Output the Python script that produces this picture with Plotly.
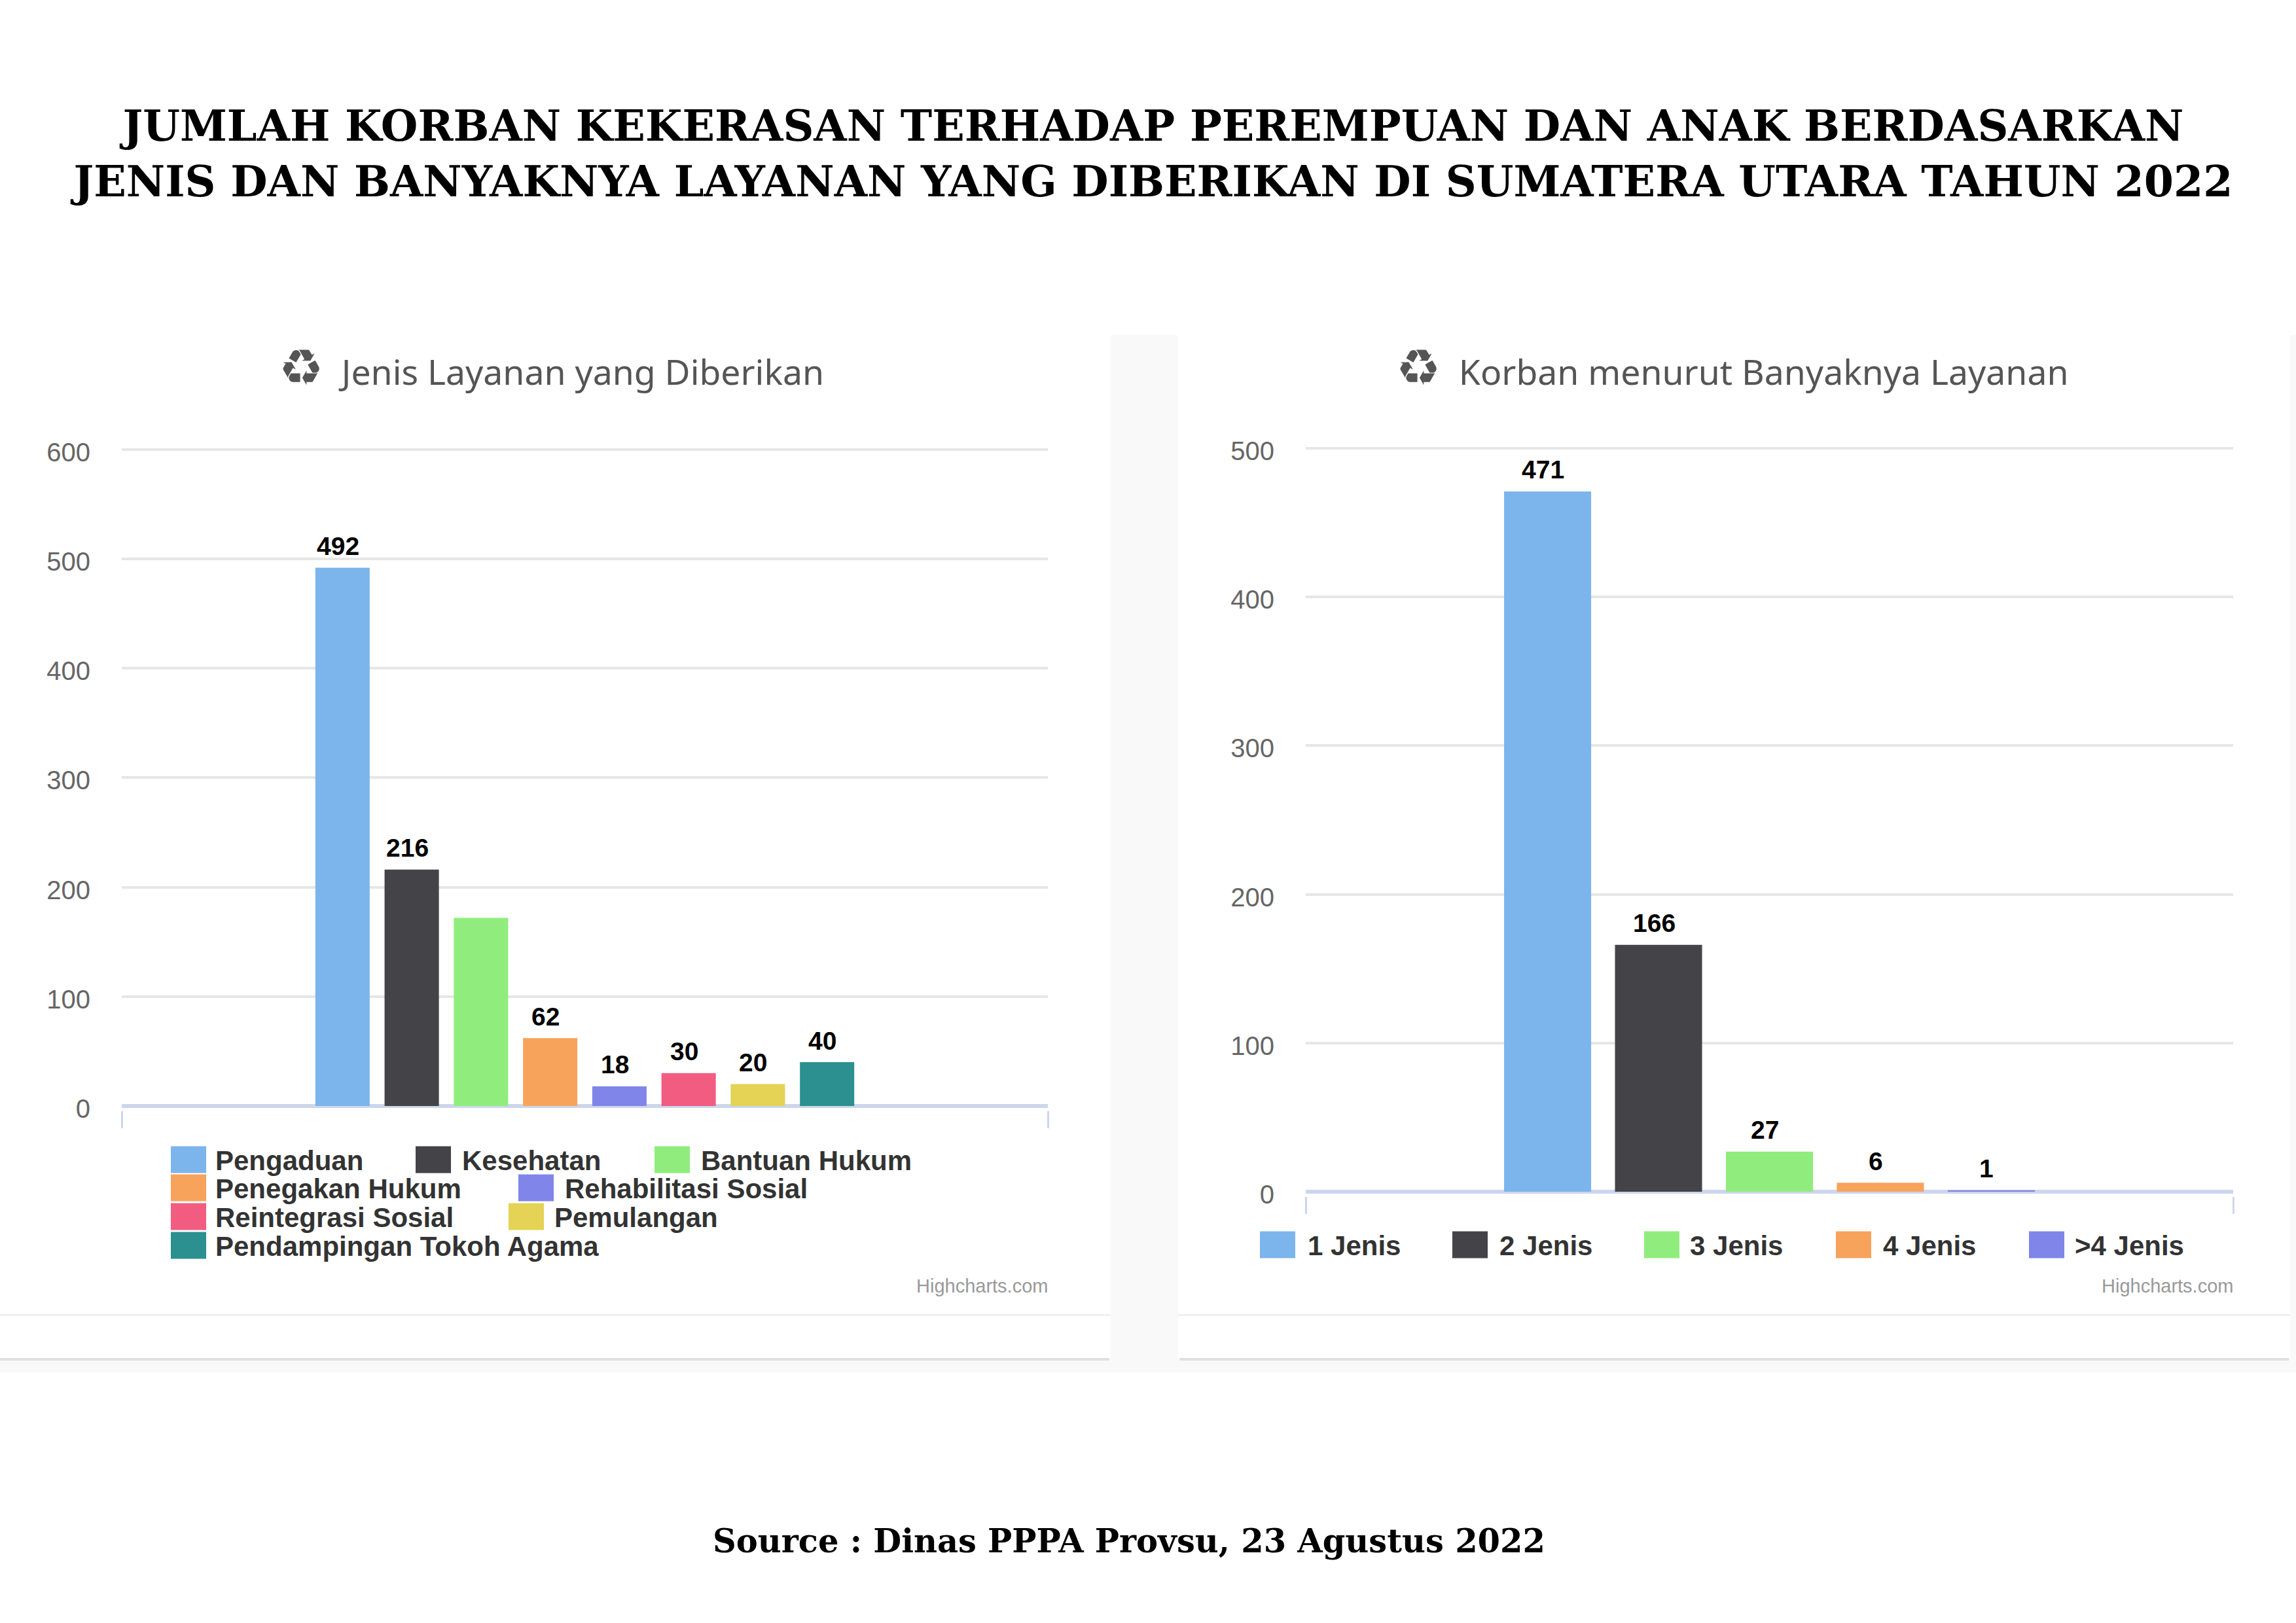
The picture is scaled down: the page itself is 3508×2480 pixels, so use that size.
import plotly.graph_objects as go

W, H = 3508, 2480

# ---- data ----
left_names = ["Pengaduan", "Kesehatan", "Bantuan Hukum", "Penegakan Hukum",
              "Rehabilitasi Sosial", "Reintegrasi Sosial", "Pemulangan",
              "Pendampingan Tokoh Agama"]
left_values = [492, 216, 172, 62, 18, 30, 20, 40]
left_labels = ["492", "216", "", "62", "18", "30", "20", "40"]
right_names = ["1 Jenis", "2 Jenis", "3 Jenis", "4 Jenis", ">4 Jenis"]
right_values = [471, 166, 27, 6, 1]
right_labels = ["471", "166", "27", "6", "1"]
left_ticks = [0, 100, 200, 300, 400, 500, 600]
right_ticks = [0, 100, 200, 300, 400, 500]
colors = ["#7cb5ec", "#434348", "#90ed7d", "#f7a35c", "#8085e9", "#f15c80", "#e4d354", "#2b908f"]

TITLE = ("JUMLAH KORBAN KEKERASAN TERHADAP PEREMPUAN DAN ANAK BERDASARKAN<br>"
         "JENIS DAN BANYAKNYA LAYANAN YANG DIBERIKAN DI SUMATERA UTARA TAHUN 2022")
ICON = '<span style="font-size:76px">♻</span>'
LEFT_TITLE = ICON + "  Jenis Layanan yang Diberikan"
RIGHT_TITLE = ICON + "  Korban menurut Banyaknya Layanan"
SOURCE = "Source : Dinas PPPA Provsu, 23 Agustus 2022"
CREDIT = "Highcharts.com"

# ---- layout helpers (pixel -> paper) ----
def fx(px):
    return px / W

def fy(px):
    return 1 - px / H

SANS = "Liberation Sans"
SERIF = "DejaVu Serif"
LEGEND_FONT = 42
SW_W, SW_H = 54, 41
ITEMW = 72
BARGAP = 0.402
GREY = "#f9f9f9"
RULE = "#e0e0e0"

# swatch left edge, text start, row centre for every legend entry
left_pos = [(261, 329, 1772), (635, 706, 1772), (1000, 1071, 1772),
            (261, 329, 1815), (792, 863, 1815),
            (261, 329, 1859), (777, 847, 1859),
            (261, 329, 1903)]
right_pos = [(1925, 1998, 1902), (2219, 2291, 1902), (2512, 2582, 1902),
             (2805, 2877, 1902), (3100, 3170, 1902)]

fig = go.Figure()
shapes = [
    dict(type="rect", xref="paper", yref="paper", x0=0, x1=1, y0=fy(2097), y1=fy(512),
         fillcolor=GREY, line_width=0, layer="below"),
    dict(type="rect", xref="paper", yref="paper", x0=0, x1=fx(1697), y0=fy(2075), y1=fy(512),
         fillcolor="#ffffff", line_width=0, layer="below"),
    dict(type="rect", xref="paper", yref="paper", x0=fx(1800), x1=fx(3499), y0=fy(2075), y1=fy(512),
         fillcolor="#ffffff", line_width=0, layer="below"),
    dict(type="rect", xref="paper", yref="paper", x0=0, x1=fx(1695), y0=fy(2079), y1=fy(2075),
         fillcolor=RULE, line_width=0, layer="below"),
    dict(type="rect", xref="paper", yref="paper", x0=fx(1802), x1=fx(3497), y0=fy(2079), y1=fy(2075),
         fillcolor=RULE, line_width=0, layer="below"),
    dict(type="rect", xref="paper", yref="paper", x0=0, x1=fx(1697), y0=fy(2011), y1=fy(2008),
         fillcolor="#f0f0f0", line_width=0, layer="below"),
    dict(type="rect", xref="paper", yref="paper", x0=fx(1800), x1=fx(3499), y0=fy(2011), y1=fy(2008),
         fillcolor="#f0f0f0", line_width=0, layer="below"),
]
annotations = [
    dict(text=LEFT_TITLE, x=fx(842), y=fy(559), xref="paper", yref="paper", showarrow=False,
         xanchor="center", yanchor="middle", font=dict(family="Noto Sans", size=53.5, color="#555555")),
    dict(text=RIGHT_TITLE, x=fx(2646), y=fy(559), xref="paper", yref="paper", showarrow=False,
         xanchor="center", yanchor="middle", font=dict(family="Noto Sans", size=53.5, color="#555555")),
    dict(text=CREDIT, x=fx(1601), y=fy(1965), xref="paper", yref="paper", showarrow=False,
         xanchor="right", yanchor="middle", xshift=2, font=dict(family=SANS, size=29, color="#999999")),
    dict(text=CREDIT, x=fx(3412), y=fy(1965), xref="paper", yref="paper", showarrow=False,
         xanchor="right", yanchor="middle", xshift=2, font=dict(family=SANS, size=29, color="#999999")),
    dict(text=SOURCE, x=fx(1725), y=fy(2355), xref="paper", yref="paper", showarrow=False,
         xanchor="center", yanchor="middle", font=dict(family=SERIF, size=49.5, color="#000000", weight="bold")),
]
legends = {}
n = 0

def add_group(names, values, labels, positions, xa, ya):
    global n
    slot = (1 - BARGAP) / len(names)
    for i, name in enumerate(names):
        n += 1
        key = "legend" if n == 1 else f"legend{n}"
        c = colors[i]
        fig.add_trace(go.Bar(
            x=[0], y=[values[i]], name=name,
            marker=dict(color=c, line_width=0),
            xaxis=xa, yaxis=ya, legend=key, showlegend=True))
        if labels[i]:
            annotations.append(dict(
                text=labels[i], x=(i - (len(names) - 1) / 2) * slot, y=values[i],
                xref=xa, yref=ya, showarrow=False, xanchor="center", yanchor="middle",
                xshift=-7, yshift=33,
                font=dict(family=SANS, size=39, color="#000000", weight="bold")))
        sx, tx, cy = positions[i]
        legends[key] = dict(
            x=fx(tx - (ITEMW + 10)), xanchor="left",
            y=fy(cy), yanchor="middle",
            orientation="h", itemwidth=ITEMW, bgcolor="rgba(0,0,0,0)", borderwidth=0,
            font=dict(family=SANS, size=LEGEND_FONT, color="#333333", weight="bold"))
        shapes.append(dict(type="rect", xref="paper", yref="paper", layer="below",
                           x0=fx(sx), x1=fx(sx + SW_W),
                           y0=fy(cy + SW_H / 2), y1=fy(cy - SW_H / 2),
                           fillcolor=c, line_width=0))

add_group(left_names, left_values, left_labels, left_pos, "x", "y")
add_group(right_names, right_values, right_labels, right_pos, "x2", "y2")

def xaxis(x0, x1, anchor):
    return dict(domain=[fx(x0), fx(x1)], range=[-0.5, 0.5], anchor=anchor, type="linear",
                tickmode="array", tickvals=[-0.5, 0.5], ticks="outside", ticklen=26,
                tickcolor="#ccd6eb", tickwidth=3, showticklabels=False,
                showgrid=False, zeroline=False, showline=False)

def yaxis(y_top, y_bottom, rng, ticks, anchor):
    return dict(domain=[fy(y_bottom), fy(y_top)], range=rng, anchor=anchor,
                tickmode="array", tickvals=ticks, ticklabelstandoff=47, ticklabelshift=4,
                tickfont=dict(family=SANS, size=40, color="#666666"),
                showgrid=True, gridcolor="#e6e6e6", gridwidth=4,
                zeroline=True, zerolinecolor="#ccd6eb", zerolinewidth=6,
                showline=False, ticks="")

layout = dict(
    width=W, height=H, margin=dict(l=0, r=0, t=0, b=0, autoexpand=False),
    paper_bgcolor="#ffffff", plot_bgcolor="rgba(0,0,0,0)",
    barmode="group", bargap=BARGAP, bargroupgap=0.215,
    title=dict(text=TITLE, x=fx(1762), xanchor="center", y=fy(215), yanchor="middle",
               font=dict(family=SERIF, size=65, color="#000000", weight="bold")),
    xaxis=xaxis(186, 1601, "y"), yaxis=yaxis(683.46, 1697.02, [-4.2, 602], left_ticks, "x"),
    xaxis2=xaxis(1995, 3412, "y2"), yaxis2=yaxis(680.46, 1828, [-3.08, 502], right_ticks, "x2"),
    shapes=shapes, annotations=annotations,
    **legends,
)
fig.update_layout(**layout)
fig.write_html("out.html", config={"displayModeBar": False},
               post_script="document.body.style.margin='0';")
